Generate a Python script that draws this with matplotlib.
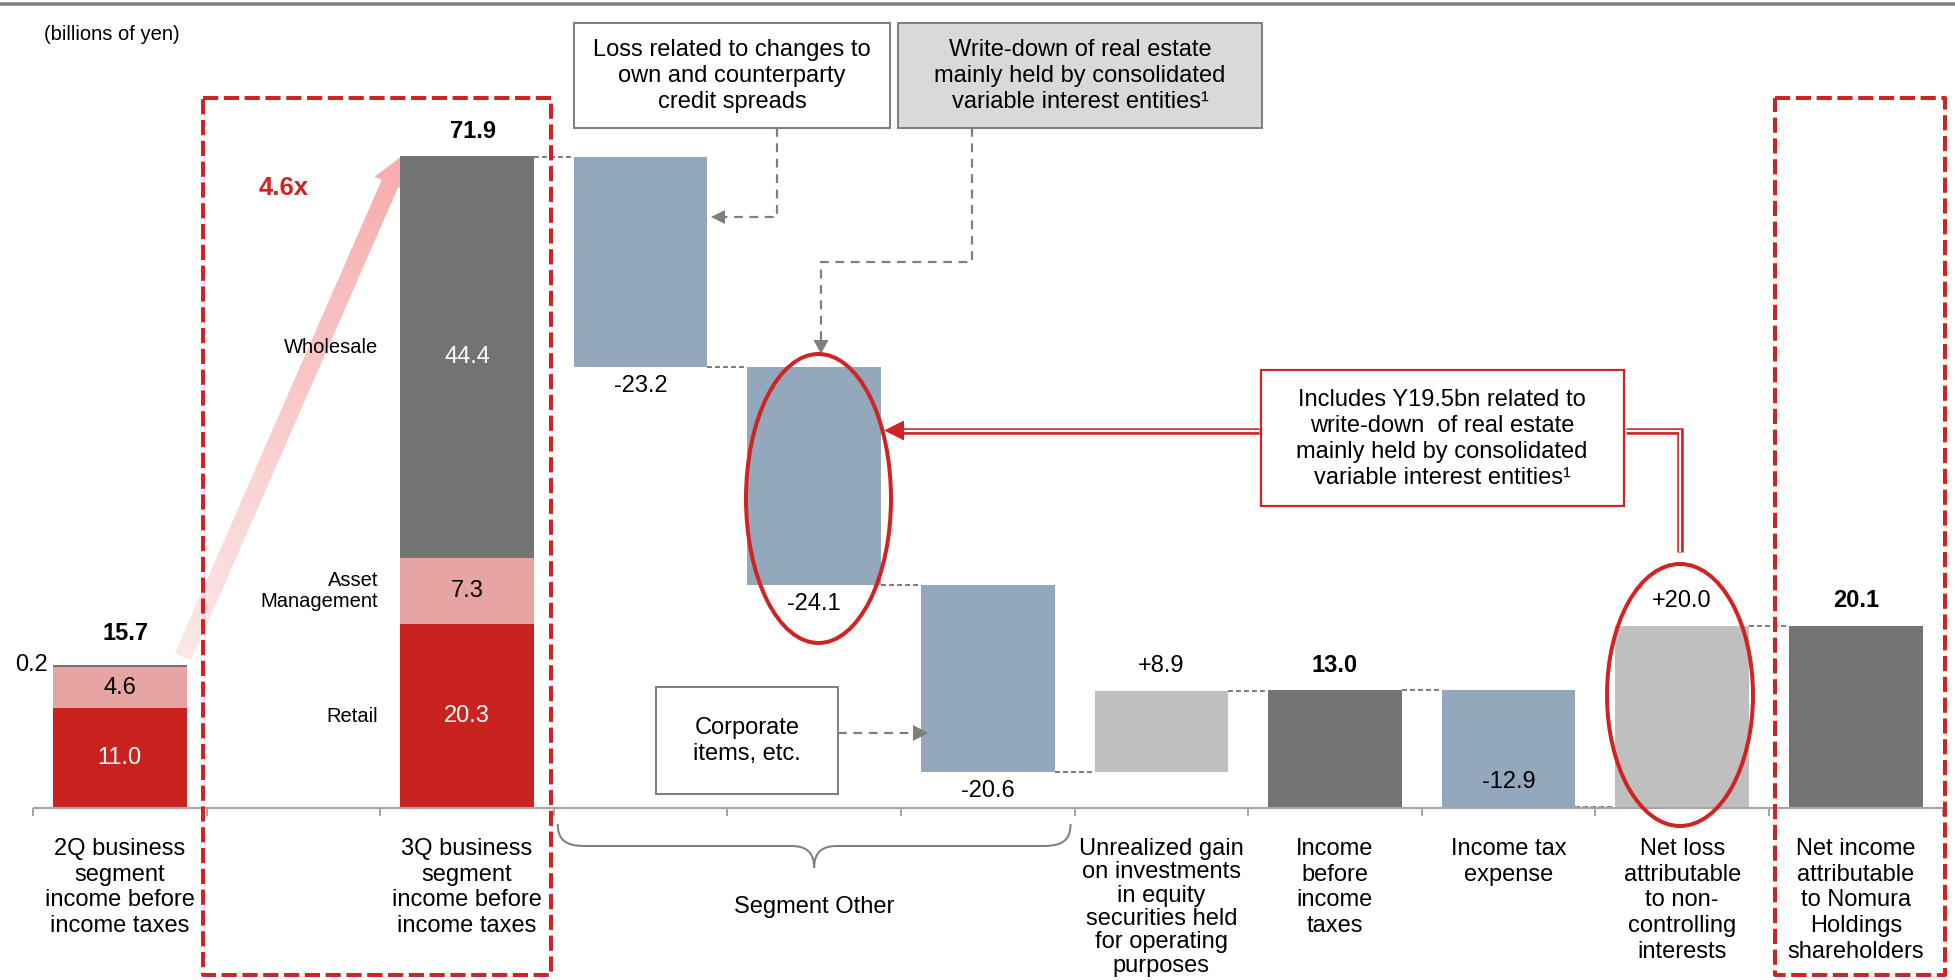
import numpy as np
import matplotlib
matplotlib.use("Agg")
import matplotlib.pyplot as plt
from matplotlib.patches import Rectangle, Ellipse, Polygon, PathPatch
from matplotlib.path import Path

plt.rcParams['font.family'] = ['Liberation Sans', 'DejaVu Sans']

# ---------------- data ----------------
categories = [
    "2Q business\nsegment\nincome before\nincome taxes",
    "",
    "3Q business\nsegment\nincome before\nincome taxes",
    "", "", "",
    "Unrealized gain\non investments\nin equity\nsecurities held\nfor operating\npurposes",
    "Income\nbefore\nincome\ntaxes",
    "Income tax\nexpense",
    "Net loss\nattributable\nto non-\ncontrolling\ninterests",
    "Net income\nattributable\nto Nomura\nHoldings\nshareholders",
]
group_label = "Segment Other"
group_span = [3, 5]

segment_names = ["Retail", "Asset\nManagement", "Wholesale"]
seg_positions = [0, 2]
seg_retail = [11.0, 20.3]
seg_asset_mgmt = [4.6, 7.3]
seg_wholesale = [0.2, 44.4]
seg_totals = [15.7, 71.9]
growth_label = "4.6x"

wf_positions = [3, 4, 5, 6, 7, 8, 9, 10]
wf_values = [-23.2, -24.1, -20.6, 8.9, 13.0, -12.9, 20.0, 20.1]
wf_is_total = [False, False, False, False, True, False, False, True]

unit_note = "(billions of yen)"
note_loss = "Loss related to changes to\nown and counterparty\ncredit spreads"
note_writedown = "Write-down of real estate\nmainly held by consolidated\nvariable interest entities\u00b9"
note_corporate = "Corporate\nitems, etc."
note_includes = ("Includes Y19.5bn related to\nwrite-down  of real estate\n"
                 "mainly held by consolidated\nvariable interest entities\u00b9")

# ---------------- style ----------------
RED = '#C9221F'
RED_LINE = '#D02424'
PINK = '#E6A4A2'
DARK = '#737373'
BLUE = '#93A8BC'
LIGHT = '#BFBFBF'
GRAY = '#7F7F7F'
FS = 17
PT = 0.72  # points per pixel at dpi 100

W, H = 1956, 980
fig = plt.figure(figsize=(W / 100, H / 100), dpi=100)

# background overlay (pixel coordinates) for the growth arrow
back = fig.add_axes([0, 0, 1, 1], facecolor='none')
back.set_xlim(0, W); back.set_ylim(H, 0); back.axis('off')

# main data axes
X0, DX, Y0, DY = 119.75, 173.6, 808.0, 9.056
ax = fig.add_axes([0, 0, 1, 1], facecolor='none')
ax.set_xlim(-X0 / DX, (W - X0) / DX)
ax.set_ylim(-(H - Y0) / DY, Y0 / DY)
ax.axis('off')

# top overlay for annotations (pixel coordinates)
ov = fig.add_axes([0, 0, 1, 1], facecolor='none')
ov.set_xlim(0, W); ov.set_ylim(H, 0); ov.axis('off')

BW = 0.77
PXU = 1.0 / DY  # data units per pixel (y)

# ---------------- stacked segment bars ----------------
seg_colors = [RED, PINK, DARK]
seg_text_colors = ['white', 'black', 'white']
for i, p in enumerate(seg_positions):
    b = 0.0
    centers = []
    for k, vals in enumerate((seg_retail, seg_asset_mgmt, seg_wholesale)):
        v = vals[i]
        ax.bar(p, v, bottom=b, width=BW, color=seg_colors[k], linewidth=0, zorder=2)
        centers.append(b + v / 2)
        if v >= 1:
            ax.text(p, b + v / 2, f"{v:.1f}", ha='center', va='center',
                    fontsize=FS, color=seg_text_colors[k], zorder=3)
        else:
            ax.annotate(f"{v:.1f}", xy=(p - BW / 2, b + v), xytext=(-5 * PT, 0),
                        textcoords='offset points', ha='right', va='center',
                        fontsize=FS, color='black')
        b += v
    off = 32 if i == 0 else 25
    ax.annotate(f"{seg_totals[i]:.1f}", xy=(p, seg_totals[i]), xytext=(6 * PT, off * PT),
                textcoords='offset points', ha='center', va='center',
                fontsize=FS, fontweight='bold')
    if i == 1:
        for k, name in enumerate(segment_names):
            dy = 10 * PT if k == 2 else 0
            ax.annotate(name, xy=(p - BW / 2, centers[k]), xytext=(-22 * PT, dy),
                        textcoords='offset points', ha='right', va='center',
                        fontsize=14.5, linespacing=1.15, zorder=4)

# ---------------- waterfall ----------------
level = seg_totals[1]
prev_right = seg_positions[1] + BW / 2
for p, v, is_tot in zip(wf_positions, wf_values, wf_is_total):
    if is_tot:
        bottom, height, col, new_level = 0.0, v, DARK, v
    else:
        bottom = min(level, level + v)
        height = abs(v)
        col = BLUE if v < 0 else LIGHT
        new_level = level + v
    # connector from previous bar
    ax.plot([prev_right, p - BW / 2], [level, level], color=GRAY, lw=2 * PT,
            dashes=(2.5, 1.5), zorder=1)
    ax.bar(p, height, bottom=bottom, width=BW, color=col, linewidth=0, zorder=2)
    top = bottom + height
    if is_tot:
        ax.annotate(f"{v:.1f}", xy=(p, top), xytext=(0, 25 * PT), textcoords='offset points',
                    ha='center', va='center', fontsize=FS, fontweight='bold')
    elif v > 0:
        ax.annotate(f"{v:+.1f}", xy=(p, top), xytext=(0, 25 * PT), textcoords='offset points',
                    ha='center', va='center', fontsize=FS)
    elif bottom < 1:
        ax.annotate(f"{v:+.1f}", xy=(p, bottom), xytext=(0, 25 * PT), textcoords='offset points',
                    ha='center', va='center', fontsize=FS)
    else:
        ax.annotate(f"{v:+.1f}", xy=(p, bottom), xytext=(0, -19 * PT), textcoords='offset points',
                    ha='center', va='center', fontsize=FS)
    level = new_level
    prev_right = p + BW / 2

# ---------------- axis line, ticks, category labels ----------------
n = len(categories)
ax.plot([-0.5, n - 0.5], [0, 0], color='#A6A6A6', lw=2.2 * PT, zorder=3, solid_capstyle='butt')
ax.vlines(np.arange(-0.5, n, 1.0), -8 * PXU, 0, color='#A6A6A6', lw=2 * PT, zorder=3)
for i, lab in enumerate(categories):
    if not lab:
        continue
    ls = 1.08 if lab.count("\n") >= 5 else 1.22
    ax.text(i, -30 * PXU, lab, ha='center', va='top', fontsize=FS, linespacing=ls)

# ---------------- growth arrow (gradient) ----------------
tail = np.array([183.0, 657.0]); tip = np.array([402.0, 156.0])
u = tip - tail; L = np.hypot(*u); u = u / L
nv = np.array([-u[1], u[0]])
sw, hw, hl = 9.0, 17.0, 30.0
base = tip - u * hl
pts = [tail + nv * sw, base + nv * sw, base + nv * hw, tip, base - nv * hw, base - nv * sw, tail - nv * sw]
poly = Polygon(pts, closed=True, facecolor='none', edgecolor='none')
back.add_patch(poly)
xs = np.arange(140, 440); ys = np.arange(130, 690)
XX, YY = np.meshgrid(xs, ys)
t = np.clip(((XX - tail[0]) * u[0] + (YY - tail[1]) * u[1]) / L, 0, 1)
c0 = np.array([252, 232, 232]) / 255.0
c1 = np.array([247, 172, 172]) / 255.0
img = c0[None, None, :] * (1 - t[..., None]) + c1[None, None, :] * t[..., None]
im = back.imshow(img, extent=(xs[0], xs[-1], ys[-1], ys[0]), origin='upper',
                 aspect='auto', interpolation='bilinear')
im.set_clip_path(poly)
back.set_xlim(0, W); back.set_ylim(H, 0)

# ---------------- overlay annotations ----------------
# top rule
ov.plot([0, W], [4.5, 4.5], color='#808080', lw=3.5 * PT, solid_capstyle='butt')
ov.text(44, 34, unit_note, ha='left', va='center', fontsize=14.5)
ov.text(284, 188, growth_label, ha='center', va='center', fontsize=18.5,
        fontweight='bold', color=RED_LINE)

# red dashed highlight boxes
for (x0, y0, x1, y1) in [(203, 98, 551, 975), (1775, 98, 1945, 975)]:
    ov.add_patch(Rectangle((x0, y0), x1 - x0, y1 - y0, fill=False, ec=RED_LINE,
                           lw=4 * PT, ls=(0, (3.8, 1.4)), joinstyle='round'))


def head(tip_xy, direction, length, half, color):
    tx, ty = tip_xy
    dx, dy = direction
    bx, by = tx - dx * length, ty - dy * length
    px, py = -dy, dx
    ov.add_patch(Polygon([(tx, ty), (bx + px * half, by + py * half),
                          (bx - px * half, by - py * half)], closed=True,
                         fc=color, ec='none', zorder=6))


# note boxes
ov.add_patch(Rectangle((574, 23), 316, 105, fc='white', ec=GRAY, lw=2 * PT, zorder=5))
ov.text(732, 76, note_loss, ha='center', va='center', fontsize=FS, linespacing=1.25, zorder=6)
ov.add_patch(Rectangle((898, 23), 364, 105, fc='#D9D9D9', ec=GRAY, lw=2 * PT, zorder=5))
ov.text(1080, 76, note_writedown, ha='center', va='center', fontsize=FS, linespacing=1.25, zorder=6)

ov.plot([777, 777, 724], [128, 217, 217], color=GRAY, lw=2.2 * PT, dashes=(4, 3), zorder=5)
head((711, 217), (-1, 0), 14, 7, GRAY)
ov.plot([972, 972, 821, 821], [128, 262, 262, 340], color=GRAY, lw=2.2 * PT, dashes=(4, 3), zorder=5)
head((821, 354), (0, 1), 14, 7.5, GRAY)

ov.add_patch(Rectangle((656, 687), 182, 107, fc='white', ec=GRAY, lw=2 * PT, zorder=5))
ov.text(747, 741, note_corporate, ha='center', va='center', fontsize=FS, linespacing=1.25, zorder=6)
ov.plot([838, 913], [733, 733], color=GRAY, lw=2.2 * PT, dashes=(4, 3), zorder=5)
head((928, 733), (1, 0), 15, 8, GRAY)

# ellipses
ov.add_patch(Ellipse((818.5, 498.5), 145, 289, fill=False, ec=RED_LINE, lw=4 * PT, zorder=7))
ov.add_patch(Ellipse((1680, 695), 146, 262, fill=False, ec=RED_LINE, lw=4 * PT, zorder=7))

# includes box with double-line connectors
ov.add_patch(Rectangle((1261, 370), 363, 136, fc='white', ec=RED_LINE, lw=2.2 * PT, zorder=5))
ov.text(1442, 439, note_includes, ha='center', va='center', fontsize=FS, linespacing=1.22, zorder=6)
for xs_, ys_ in [([1626, 1679.5, 1679.5], [430.5, 430.5, 552]), ([1259, 900], [430.5, 430.5])]:
    ov.plot(xs_, ys_, color=RED_LINE, lw=6.5 * PT, solid_joinstyle='miter',
            solid_capstyle='butt', zorder=6)
    ov.plot(xs_, ys_, color='white', lw=2.2 * PT, solid_joinstyle='miter',
            solid_capstyle='butt', zorder=6)
head((884, 430.5), (-1, 0), 20, 10, RED_LINE)

# brace under "Segment Other"
xl = ax.transData.transform((group_span[0] - 0.5, 0))[0] + 4
xr = ax.transData.transform((group_span[1] + 0.5, 0))[0] - 4
xc = (xl + xr) / 2
yt, ym, yb = 824, 846, 868
verts = [(xl, yt), (xl, yt + 16), (xl + 8, ym), (xl + 27, ym),
         (xc - 23, ym),
         (xc - 8, ym), (xc, ym + 6), (xc, yb),
         (xc, ym + 6), (xc + 8, ym), (xc + 23, ym),
         (xr - 27, ym),
         (xr - 8, ym), (xr, yt + 16), (xr, yt)]
codes = [Path.MOVETO, Path.CURVE4, Path.CURVE4, Path.CURVE4,
         Path.LINETO,
         Path.CURVE4, Path.CURVE4, Path.CURVE4,
         Path.CURVE4, Path.CURVE4, Path.CURVE4,
         Path.LINETO,
         Path.CURVE4, Path.CURVE4, Path.CURVE4]
ov.add_patch(PathPatch(Path(verts, codes), fill=False, ec=GRAY, lw=2 * PT))
ov.text(xc, 907, group_label, ha='center', va='center', fontsize=FS)

fig.savefig("out.png", dpi=100)
